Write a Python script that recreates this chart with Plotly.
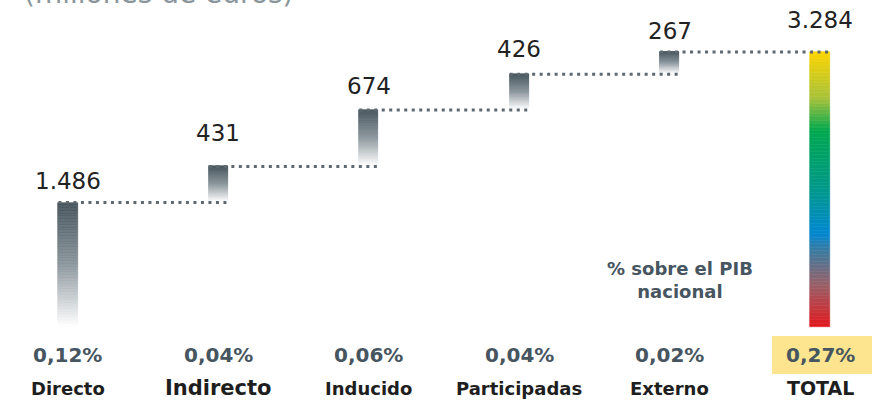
import plotly.graph_objects as go

categories = ["Directo", "Indirecto", "Inducido", "Participadas", "Externo", "TOTAL"]
increments = [1486, 431, 674, 426, 267]
total = 3284
value_labels = ["1.486", "431", "674", "426", "267", "3.284"]
pib_labels = ["0,12%", "0,04%", "0,06%", "0,04%", "0,02%", "0,27%"]

FONT = "DejaVu Sans"
DARK = "#46545c"
SLATE = "#46555f"
N = 80
W = 0.127


def hex_rgb(h):
    h = h.lstrip("#")
    return tuple(int(h[i:i + 2], 16) for i in (0, 2, 4))


def blend(stops, t):
    for (t0, c0), (t1, c1) in zip(stops, stops[1:]):
        if t0 <= t <= t1:
            f = (t - t0) / (t1 - t0) if t1 > t0 else 0
            a, b = hex_rgb(c0), hex_rgb(c1)
            return "rgb(%d,%d,%d)" % tuple(round(a[k] + (b[k] - a[k]) * f) for k in range(3))
    return stops[-1][1]


grey_stops = [(0, DARK), (0.5, "#8b969d"), (1, "#ffffff")]
total_stops = [(0, "#ffd500"), (0.17, "#a8c23a"), (0.29, "#00a84f"), (0.5, "#00998a"),
               (0.66, "#0088d1"), (0.73, "#3f7a9e"), (0.85, "#9a6067"), (1, "#e2191f")]

# cumulative levels
tops, bases = [], []
run = 0
for v in increments:
    bases.append(run)
    run += v
    tops.append(run)
bases.append(0)
tops.append(total)

xs, bs, hs, cols = [], [], [], []
for i, (b, t) in enumerate(zip(bases, tops)):
    stops = total_stops if i == len(categories) - 1 else grey_stops
    h = (t - b) / N
    for k in range(N):
        xs.append(i)
        bs.append(t - (k + 1) * h)
        hs.append(h)
        cols.append(blend(stops, (k + 0.5) / N))

fig = go.Figure()
fig.add_trace(go.Bar(x=xs, y=hs, base=bs, width=W,
                     marker=dict(color=cols, line=dict(color=cols, width=0.6)),
                     hoverinfo="skip", showlegend=False))

# dotted connectors
for i in range(len(categories) - 1):
    fig.add_trace(go.Scatter(x=[i - W / 2, i + 1 + W / 2], y=[tops[i], tops[i]],
                             mode="lines", line=dict(color="#5d6870", width=3, dash="3px,4.5px"),
                             hoverinfo="skip", showlegend=False))

label_lift = [22, 33, 24, 25, 21, 32]
for i, txt in enumerate(value_labels):
    fig.add_annotation(x=i, y=tops[i], text=txt, showarrow=False, yanchor="middle",
                       yshift=label_lift[i], font=dict(family=FONT, size=23, color="#222222"))

fig.add_shape(type="rect", x0=4.681, x1=5.346, y0=-561, y1=-107,
              fillcolor="#fde58f", line=dict(width=0), layer="below")

for i, txt in enumerate(pib_labels):
    fig.add_annotation(x=i, y=-334, text="<b>%s</b>" % txt, showarrow=False,
                       font=dict(family=FONT, size=20, color=SLATE))

cat_sizes = [18, 21, 18, 18, 18, 19]
for i, txt in enumerate(categories):
    fig.add_annotation(x=i, y=-730, text="<b>%s</b>" % txt, showarrow=False,
                       font=dict(family=FONT, size=cat_sizes[i], color="#1e1e1e"))

fig.add_annotation(x=4.07, y=560, text="<b>% sobre el PIB<br>nacional</b>", showarrow=False,
                   font=dict(family=FONT, size=18, color=SLATE))

fig.add_annotation(xref="paper", yref="paper", x=0.025, y=1.0, xanchor="left", yanchor="middle",
                   yshift=7, text="(millones de euros)", showarrow=False,
                   font=dict(family=FONT, size=28, color="#8a959c"))

fig.update_layout(
    width=874, height=401, margin=dict(l=0, r=0, t=0, b=0),
    plot_bgcolor="white", paper_bgcolor="white", bargap=0,
    xaxis=dict(range=[-0.452, 5.359], visible=False, fixedrange=True),
    yaxis=dict(range=[-884, 3905], visible=False, fixedrange=True),
)

fig.write_html("out.html", config={"displayModeBar": False},
               post_script="document.body.style.margin='0';")
